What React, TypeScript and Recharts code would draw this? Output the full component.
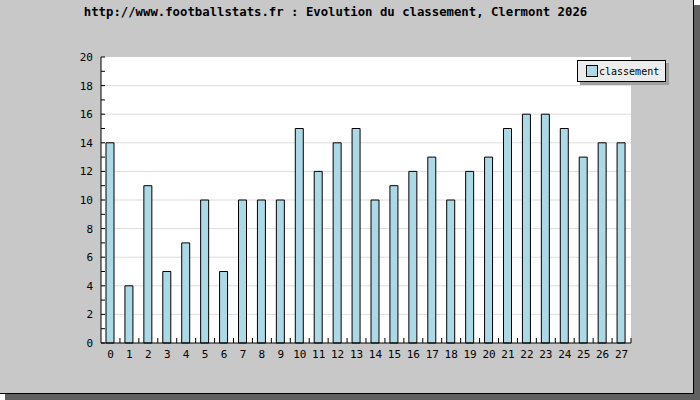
import { BarChart, Bar, XAxis, YAxis, CartesianGrid, Legend } from 'recharts';

const rounds = [0, 1, 2, 3, 4, 5, 6, 7, 8, 9, 10, 11, 12, 13, 14, 15, 16, 17, 18, 19, 20, 21, 22, 23, 24, 25, 26, 27];
const classement = [14, 4, 11, 5, 7, 10, 5, 10, 10, 10, 15, 12, 14, 15, 10, 11, 12, 13, 10, 12, 13, 15, 16, 16, 15, 13, 14, 14];
const yTicks = [0, 1, 2, 3, 4, 5, 6, 7, 8, 9, 10, 11, 12, 13, 14, 15, 16, 17, 18, 19, 20];

const data = rounds.map((r, i) => ({ name: String(r), classement: classement[i] }));

const FONT = '"DejaVu Sans Mono", monospace';
const PLOT_W = 530;
const HALF_BAND = PLOT_W / rounds.length / 2;

// ticks vers l'intérieur, labels seulement sur les valeurs paires
const YTick = (props: any) => {
  const { x, y, payload } = props;
  const v = payload.value;
  return (
    <g>
      <line x1={x} x2={x + 4} y1={y} y2={y} stroke="#000" />
      {v % 2 === 0 && (
        <text x={x - 8} y={y + 4} textAnchor="end" fontSize={11} fontFamily={FONT} fill="#000">
          {v}
        </text>
      )}
    </g>
  );
};

const XTick = (props: any) => {
  const { x, y, payload } = props;
  return (
    <g>
      <line x1={x + HALF_BAND} x2={x + HALF_BAND} y1={y} y2={y - 5} stroke="#000" />
      <text x={x} y={y + 15} textAnchor="middle" fontSize={11} fontFamily={FONT} fill="#000">
        {payload.value}
      </text>
    </g>
  );
};

const LegendBox = () => (
  <div
    style={{
      background: '#ececec',
      border: '1px solid #000',
      boxShadow: '3px 3px 0 #a0a0a0',
      padding: '3px 3px 3px 8px',
      display: 'flex',
      alignItems: 'center',
      fontFamily: FONT,
      fontSize: 10,
      width: 76,
      height: 14,
    }}
  >
    <span style={{ width: 10, height: 10, background: '#add8e6', border: '1px solid #000', marginRight: 1 }} />
    classement
  </div>
);

export default function App() {
  return (
    <div style={{ position: 'fixed', top: 0, left: 0, width: 700, height: 400 }}>
      <div style={{ position: 'absolute', left: 5, top: 5, width: 695, height: 395, background: '#606060' }} />
      <div
        style={{
          position: 'absolute',
          left: 0,
          top: 0,
          width: 693,
          height: 393,
          background: '#c8c8c8',
          borderRight: '1px solid #000',
          borderBottom: '1px solid #000',
        }}
      />
      <div
        style={{
          position: 'absolute',
          top: 5,
          left: 0,
          width: 671,
          textAlign: 'center',
          fontFamily: FONT,
          fontWeight: 'bold',
          fontSize: 12.3,
        }}
      >
        http://www.footballstats.fr : Evolution du classement, Clermont 2026
      </div>
      <div style={{ position: 'absolute', top: 0, left: 0 }}>
        <BarChart width={700} height={400} data={data} margin={{ top: 57, right: 69, bottom: 15, left: 71 }} barSize={8}>
          <CartesianGrid vertical={false} stroke="#dddddd" fill="#ffffff" horizontalValues={[2, 4, 6, 8, 10, 12, 14, 16, 18]} />
          <XAxis
            dataKey="name"
            height={20}
            stroke="#000"
            tickLine={false}
            tickSize={0}
            tickMargin={0}
            tick={<XTick />}
            interval={0}
          />
          <YAxis
            width={30}
            domain={[0, 20]}
            ticks={yTicks}
            interval={0}
            stroke="#000"
            tickLine={false}
            tickSize={0}
            tickMargin={0}
            tick={<YTick />}
          />
          <Legend content={<LegendBox />} wrapperStyle={{ position: 'absolute', top: 60, left: 577, width: 'auto' }} />
          <Bar dataKey="classement" fill="#add8e6" stroke="#000" strokeWidth={1} isAnimationActive={false} />
        </BarChart>
      </div>
    </div>
  );
}
